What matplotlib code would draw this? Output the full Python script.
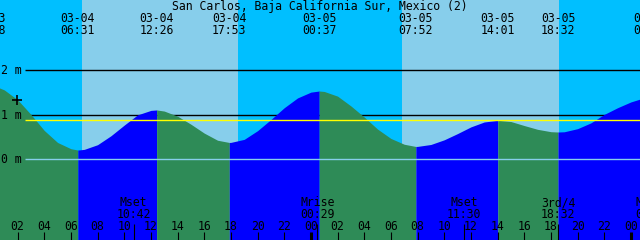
import matplotlib
matplotlib.use('Agg')
from matplotlib import pyplot as plt
import numpy as np

# tide curve (hours from 03-04 00:00, metres)
curve_hours = [0.6, 1, 2, 3, 4, 5, 6, 6.52, 7, 8, 9, 10, 11, 12, 12.43,
               13, 14, 15, 16, 17, 17.88, 18, 19, 20, 21, 22, 23, 24, 24.62,
               25, 26, 27, 28, 29, 30, 31, 31.87, 32, 33, 34, 35, 36, 37, 38.02,
               39, 40, 41, 42, 42.53, 43, 44, 45, 46, 47, 48, 48.75]
curve_heights = [1.61, 1.56, 1.34, 1.01, 0.65, 0.38, 0.24, 0.21, 0.225, 0.33, 0.53, 0.77, 1.00, 1.10, 1.11,
                 1.085, 0.97, 0.79, 0.59, 0.43, 0.38, 0.382, 0.45, 0.645, 0.895, 1.16, 1.38, 1.51, 1.535,
                 1.525, 1.42, 1.20, 0.95, 0.68, 0.47, 0.34, 0.29, 0.292, 0.335, 0.44, 0.58, 0.73, 0.84, 0.878,
                 0.85, 0.76, 0.675, 0.622, 0.615, 0.62, 0.69, 0.82, 1.01, 1.16, 1.29, 1.36]

# high / low tide events
tide_hours = [-0.2, 6.52, 12.43, 17.88, 24.62, 31.87, 38.02, 42.53, 49.45]
tide_dates = ['03-03', '03-04', '03-04', '03-04', '03-05', '03-05', '03-05', '03-05', '03-06']
tide_times = ['23:48', '06:31', '12:26', '17:53', '00:37', '07:52', '14:01', '18:32', '01:27']

# moon events
moon_hours = [10.70, 24.48, 35.50, 42.53, 49.6]
moon_names = ['Mset', 'Mrise', 'Mset', '3rd/4', 'Mrise']
moon_times = ['10:42', '00:29', '11:30', '18:32', '01:36']

# night spans (sunset -> sunrise)
night_start = [0.0, 18.51, 42.61]
night_end = [6.81, 30.81, 50.0]

mean_level = 0.878
level_lines = [2, 1]

x0, x1 = 0.6825, 48.6825
y0, y1 = -1.809, 3.578
H = 240.0

plt.rcParams['font.family'] = 'DejaVu Sans Mono'
fs = 8.3

fig = plt.figure(figsize=(6.4, 2.4), dpi=100)
ax = fig.add_axes([0, 0, 1, 1])
ax.set_xlim(x0, x1)
ax.set_ylim(y0, y1)
ax.set_facecolor('#87CEEB')
for s in ax.spines.values():
    s.set_visible(False)
ax.set_xticks([])
ax.set_yticks([])

for a, b in zip(night_start, night_end):
    ax.axvspan(a, b, color='#00BFFF', lw=0, zorder=0)

line_x0 = 2.56
ax.hlines(level_lines, line_x0, x1, color='black', lw=1.0, zorder=1)

# water: green while falling, blue while rising
hours = np.array(curve_hours)
heights = np.array(curve_heights)
bounds = [hours[0]] + tide_hours[1:8] + [hours[-1]]
for i in range(len(bounds) - 1):
    m = (hours >= bounds[i] - 1e-6) & (hours <= bounds[i + 1] + 1e-6)
    col = '#2E8B57' if i % 2 == 0 else '#0000FF'
    ax.fill_between(hours[m], heights[m], y0, color=col, lw=0, antialiased=False, zorder=2)

ax.hlines(0, line_x0, x1, color='#87CEEB', lw=1.0, zorder=3)
ax.hlines(mean_level, line_x0, x1, color='#FFFF00', lw=1.0, zorder=3)
ax.plot([1.92], [1.34], marker='+', ms=7, mew=1.2, color='black', zorder=4)

ytr = ax.get_yaxis_transform()
for lv, lab in [(2, '2 m'), (1, '1 m'), (0, '0 m')]:
    ax.text(1 / 640, lv - 0.088, lab, transform=ytr, ha='left', va='baseline',
            fontsize=fs, zorder=4)

xtr = ax.get_xaxis_transform()
def row(px):
    return 1 - px / H

ax.text(0.5, row(9.7), 'San Carlos, Baja California Sur, Mexico (2)', transform=ax.transAxes,
        ha='center', va='baseline', fontsize=fs, zorder=4)
for hr, d, t in zip(tide_hours, tide_dates, tide_times):
    ax.text(hr, row(22), d, transform=xtr, ha='center', va='baseline', fontsize=fs, zorder=4)
    ax.text(hr, row(34), t, transform=xtr, ha='center', va='baseline', fontsize=fs, zorder=4)

for hr, n, t in zip(moon_hours, moon_names, moon_times):
    ax.text(hr, row(206), n, transform=xtr, ha='center', va='baseline', fontsize=fs, zorder=4)
    ax.text(hr, row(218.3), t, transform=xtr, ha='center', va='baseline', fontsize=fs, zorder=4)
    ax.vlines(hr, 0, 16 / H, transform=xtr, color='black', lw=0.8, zorder=4)

for hr in range(2, 49, 2):
    lab = '%02d' % (hr % 24)
    ax.text(hr, row(230), lab, transform=xtr, ha='center', va='baseline', fontsize=fs, zorder=4)
    lw = 2.2 if hr % 24 == 0 else 0.8
    ax.vlines(hr, 0, 8 / H, transform=xtr, color='black', lw=lw, zorder=4)

plt.savefig('out.png', dpi=100)
